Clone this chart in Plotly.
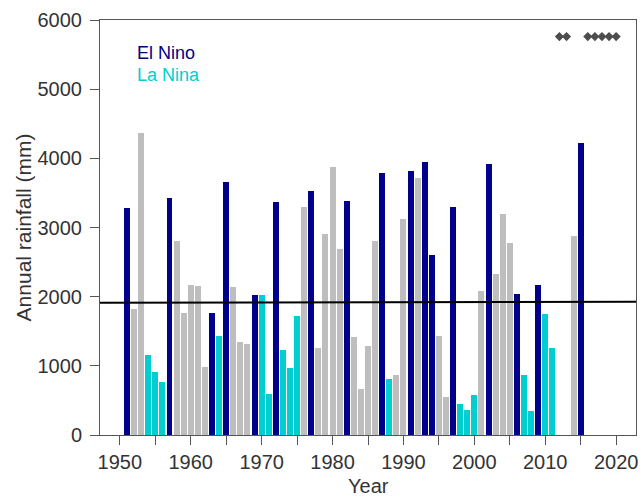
import plotly.graph_objects as go

years = [1951, 1952, 1953, 1954, 1955, 1956, 1957, 1958, 1959, 1960,
         1961, 1962, 1963, 1964, 1965, 1966, 1967, 1968, 1969, 1970,
         1971, 1972, 1973, 1974, 1975, 1976, 1977, 1978, 1979, 1980,
         1981, 1982, 1983, 1984, 1985, 1986, 1987, 1988, 1989, 1990,
         1991, 1992, 1993, 1994, 1995, 1996, 1997, 1998, 1999, 2000,
         2001, 2002, 2003, 2004, 2005, 2006, 2007, 2008, 2009, 2010,
         2011, 2014, 2015]
rainfall = [3285, 1815, 4360, 1155, 915, 765, 3420, 2805, 1770, 2170,
            2155, 980, 1770, 1430, 3660, 2145, 1350, 1310, 2025, 2020,
            600, 3365, 1230, 975, 1720, 3290, 3530, 1260, 2900, 3870,
            2695, 3385, 1420, 670, 1290, 2810, 3790, 815, 865, 3120,
            3820, 3710, 3950, 2605, 1430, 555, 3290, 450, 360, 575,
            2080, 3915, 2330, 3195, 2770, 2035, 865, 340, 2170, 1750,
            1255, 2880, 4225]
phase = ["E", "N", "N", "L", "L", "L", "E", "N", "N", "N",
         "N", "N", "E", "L", "E", "N", "N", "N", "E", "L",
         "L", "E", "L", "L", "L", "N", "E", "N", "N", "N",
         "N", "E", "N", "N", "N", "N", "E", "L", "N", "N",
         "E", "N", "E", "E", "N", "N", "E", "L", "L", "L",
         "N", "E", "N", "N", "N", "E", "L", "L", "E", "L",
         "L", "N", "E"]
missing_years = [2012, 2013, 2016, 2017, 2018, 2019, 2020]
missing_marker_level = 5760
trend_level = [1913, 1927]

x_ticks = list(range(1950, 2021, 5))
x_ticklabels = [str(y) if y % 10 == 0 else "" for y in x_ticks]
y_ticks = list(range(0, 6001, 1000))

colors = {"N": "#BEBEBE", "E": "#00008B", "L": "#00CED1"}
names = {"N": "Neutral", "E": "El Nino", "L": "La Nina"}

FONT = "Liberation Sans, Arial, sans-serif"
TXT = "#333333"
AX = "#555555"

fig = go.Figure()
for p in ["N", "L", "E"]:
    xs = [y for y, ph in zip(years, phase) if ph == p]
    vs = [v for v, ph in zip(rainfall, phase) if ph == p]
    fig.add_trace(go.Bar(x=xs, y=vs, width=0.84, marker_color=colors[p],
                         marker_line_width=0, name=names[p], showlegend=False))

fig.add_trace(go.Scatter(x=missing_years, y=[missing_marker_level] * len(missing_years),
                         mode="markers", marker=dict(symbol="diamond", size=7, color="#4d4d4d"),
                         showlegend=False))

fig.add_shape(type="line", xref="paper", yref="y", x0=0, x1=1,
              y0=trend_level[0], y1=trend_level[1], line=dict(color="black", width=2))

fig.add_annotation(text="El Nino", xref="paper", yref="paper", x=0.065, y=0.921,
                   xanchor="left", yanchor="middle", showarrow=False,
                   font=dict(family=FONT, size=18, color="#00008B"))
fig.add_annotation(text="La Nina", xref="paper", yref="paper", x=0.065, y=0.867,
                   xanchor="left", yanchor="middle", showarrow=False,
                   font=dict(family=FONT, size=18, color="#00CED1"))

fig.add_annotation(text="Year", xref="paper", yref="paper", x=0.5, y=-0.122,
                   xanchor="center", yanchor="middle", showarrow=False, borderpad=0,
                   font=dict(family=FONT, size=20, color=TXT))
fig.add_annotation(text="Annual rainfall (mm)", xref="paper", yref="paper", x=-0.142, y=0.5,
                   xanchor="center", yanchor="middle", showarrow=False, textangle=-90,
                   borderpad=0, font=dict(family=FONT, size=21, color=TXT))

fig.update_layout(
    width=642, height=497,
    margin=dict(l=100, r=4, t=20, b=62),
    plot_bgcolor="white", paper_bgcolor="white",
    bargap=0, barmode="overlay",
    font=dict(family=FONT, size=20, color=TXT),
    xaxis=dict(range=[1947.2, 2022.8], tickvals=x_ticks, ticktext=x_ticklabels,
               ticks="outside", ticklen=9, tickcolor=AX, showgrid=False, zeroline=False,
               showline=True, linecolor=AX, linewidth=1, mirror=True,
               tickfont=dict(family=FONT, size=20, color=TXT)),
    yaxis=dict(range=[0, 6000], tickvals=y_ticks, ticks="outside", ticklen=9, tickcolor=AX,
               showgrid=False, zeroline=False, showline=True, linecolor=AX, linewidth=1,
               mirror=True, ticklabelstandoff=4,
               tickfont=dict(family=FONT, size=20, color=TXT)),
)

fig.write_html("out.html", config={"displayModeBar": False},
               post_script="document.body.style.margin='0';")
